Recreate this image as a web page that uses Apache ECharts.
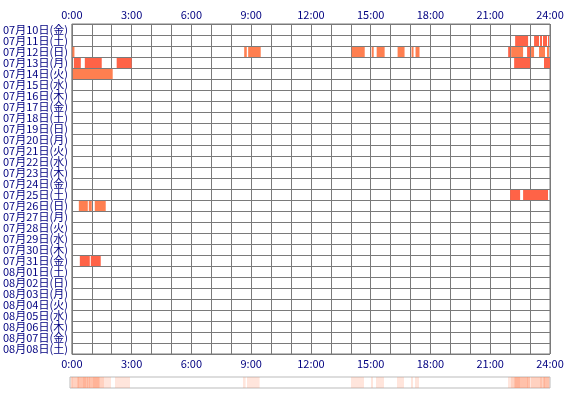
<!DOCTYPE html>
<html>
<head>
<meta charset="utf-8">
<script src="https://cdn.jsdelivr.net/npm/echarts@6/dist/echarts.min.js"></script>
<style>
html, body { margin: 0; padding: 0; background: #fff; }
#main { width: 570px; height: 400px; }
</style>
</head>
<body>
<div id="main"></div>
<script>
// day rows (top to bottom)
var dayLabels = [
    '07月10日(金)', '07月11日(土)', '07月12日(日)', '07月13日(月)', '07月14日(火)',
    '07月15日(水)', '07月16日(木)', '07月17日(金)', '07月18日(土)', '07月19日(日)',
    '07月20日(月)', '07月21日(火)', '07月22日(水)', '07月23日(木)', '07月24日(金)',
    '07月25日(土)', '07月26日(日)', '07月27日(月)', '07月28日(火)', '07月29日(水)',
    '07月30日(木)', '07月31日(金)', '08月01日(土)', '08月02日(日)', '08月03日(月)',
    '08月04日(火)', '08月05日(水)', '08月06日(木)', '08月07日(金)', '08月08日(土)'
];
var hourTicks = [0, 3, 6, 9, 12, 15, 18, 21, 24];

// active periods per day: [start hour, end hour, shade (0 = coral, 1 = tomato)]
var seg0711 = [[22.25, 22.9, 1], [23.2, 23.45, 1], [23.5, 23.6, 1], [23.65, 23.85, 1], [23.9, 23.95, 1]];
var seg0712 = [[0.03, 0.13, 0], [8.65, 8.78, 0], [8.85, 9.48, 0], [14.05, 14.7, 0], [15.05, 15.15, 0],
    [15.3, 15.7, 0], [16.35, 16.7, 0], [17.05, 17.15, 0], [17.25, 17.45, 0], [21.9, 22.0, 1],
    [22.05, 22.65, 0], [22.85, 23.0, 1], [23.05, 23.2, 0], [23.45, 23.75, 0], [23.85, 23.95, 0]];
var seg0713 = [[0.1, 0.45, 1], [0.65, 1.5, 1], [2.25, 3.0, 1], [22.2, 23.0, 1], [23.7, 24.0, 1]];
var seg0714 = [[0.05, 2.05, 0]];
var seg0725 = [[22.0, 22.5, 1], [22.65, 23.9, 1]];
var seg0726 = [[0.35, 0.8, 0], [0.85, 1.0, 0], [1.15, 1.7, 0]];
var seg0731 = [[0.4, 0.9, 1], [0.95, 1.45, 1]];

var activeDays = [
    ['07月11日(土)', seg0711], ['07月12日(日)', seg0712], ['07月13日(月)', seg0713],
    ['07月14日(火)', seg0714], ['07月25日(土)', seg0725], ['07月26日(日)', seg0726],
    ['07月31日(金)', seg0731]
];

var shades = ['#ff7f50', '#ff6347'];
var navy = '#000080';
var fontName = '"Noto Sans CJK JP", "Liberation Sans", sans-serif';

var barData = [];
var stripData = [];
activeDays.forEach(function (d) {
    var row = dayLabels.indexOf(d[0]);
    d[1].forEach(function (s) {
        barData.push({ value: [row, s[0], s[1]], itemStyle: { color: shades[s[2]] } });
        stripData.push([0, s[0], s[1]]);
    });
});

function hourLabel(v) {
    return hourTicks.indexOf(v) >= 0 ? v + ':00' : '';
}

var chartDom = document.getElementById('main');
var myChart = echarts.init(chartDom);
var option = {
    animation: false,
    grid: [
        { left: 70, right: 20, top: 24, height: 330, show: true, borderColor: '#7a7a7a', borderWidth: 1 },
        { left: 70, right: 20, top: 377, height: 11, show: true, borderColor: '#bbbbbb', borderWidth: 1 }
    ],
    xAxis: [
        {
            type: 'value', gridIndex: 0, position: 'top', min: 0, max: 24, interval: 1,
            axisLine: { show: false }, axisTick: { show: false },
            splitLine: { show: true, lineStyle: { color: '#7a7a7a', width: 1 } },
            axisLabel: { formatter: hourLabel, color: navy, fontSize: 11, fontFamily: fontName, margin: 4 }
        },
        {
            type: 'value', gridIndex: 0, position: 'bottom', min: 0, max: 24, interval: 1,
            axisLine: { show: false }, axisTick: { show: false }, splitLine: { show: false },
            axisLabel: { formatter: hourLabel, color: navy, fontSize: 11, fontFamily: fontName, margin: 4 }
        },
        {
            type: 'value', gridIndex: 1, min: 0, max: 24,
            axisLine: { show: false }, axisTick: { show: false },
            splitLine: { show: false }, axisLabel: { show: false }
        }
    ],
    yAxis: [
        {
            type: 'category', gridIndex: 0, data: dayLabels, inverse: true,
            axisLine: { show: false }, axisTick: { show: false },
            splitLine: { show: true, lineStyle: { color: '#7a7a7a', width: 1 } },
            axisLabel: { color: navy, fontSize: 11, fontFamily: fontName, margin: 4, interval: 0 }
        },
        {
            type: 'category', gridIndex: 1, data: ['all'],
            axisLine: { show: false }, axisTick: { show: false },
            splitLine: { show: false }, axisLabel: { show: false }
        }
    ],
    series: [
        {
            type: 'custom', xAxisIndex: 0, yAxisIndex: 0,
            encode: { x: [1, 2], y: 0 },
            renderItem: function (params, api) {
                var row = api.value(0);
                var a = api.coord([api.value(1), row]);
                var b = api.coord([api.value(2), row]);
                var h = api.size([0, 1])[1];
                return {
                    type: 'rect',
                    shape: { x: a[0], y: a[1] - h / 2 + 1, width: b[0] - a[0], height: h - 1 },
                    style: api.style()
                };
            },
            data: barData
        },
        {
            type: 'custom', xAxisIndex: 2, yAxisIndex: 1,
            encode: { x: [1, 2], y: 0 },
            renderItem: function (params, api) {
                var a = api.coord([api.value(1), 0]);
                var b = api.coord([api.value(2), 0]);
                var h = api.size([0, 1])[1];
                return {
                    type: 'rect',
                    shape: { x: a[0], y: a[1] - h / 2, width: b[0] - a[0], height: h },
                    style: { fill: '#ff7f50', opacity: 0.2 }
                };
            },
            data: stripData
        }
    ]
};

option && myChart.setOption(option);
</script>
</body>
</html>
